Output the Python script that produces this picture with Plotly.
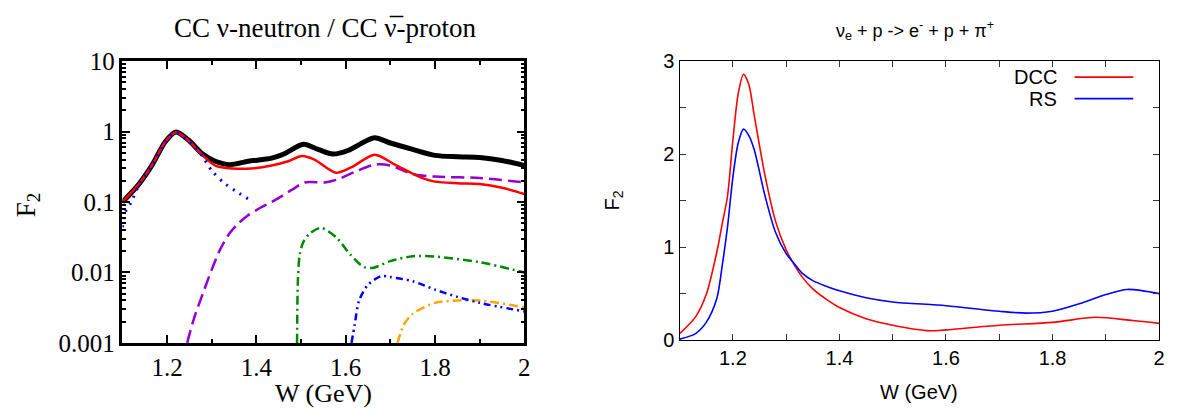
import plotly.graph_objects as go

# ---------------- Left panel data (log scale) ----------------
W_total = [1.10, 1.137, 1.167, 1.196, 1.22, 1.248, 1.278, 1.308, 1.341, 1.382, 1.434, 1.464,
           1.505, 1.538, 1.571, 1.605, 1.642, 1.665, 1.70, 1.75, 1.80, 1.85, 1.90, 1.95, 2.00]
F_total = [0.100, 0.18, 0.34, 0.72, 0.99, 0.76, 0.49, 0.38, 0.34, 0.38, 0.42, 0.49,
           0.66, 0.56, 0.48, 0.54, 0.72, 0.82, 0.69, 0.56, 0.46, 0.44, 0.43, 0.39, 0.33]

W_red = [1.10, 1.137, 1.167, 1.196, 1.22, 1.248, 1.278, 1.308, 1.345, 1.39, 1.434, 1.471,
         1.502, 1.53, 1.578, 1.612, 1.665, 1.71, 1.77, 1.80, 1.85, 1.90, 1.95, 2.00]
F_red = [0.100, 0.18, 0.34, 0.72, 0.98, 0.75, 0.47, 0.33, 0.30, 0.30, 0.33, 0.38,
         0.45, 0.40, 0.26, 0.31, 0.47, 0.34, 0.22, 0.195, 0.185, 0.18, 0.16, 0.13]

W_delta = [1.10, 1.107, 1.119, 1.14, 1.167, 1.196, 1.22, 1.248, 1.263, 1.278, 1.30, 1.326, 1.356, 1.393]
F_delta = [0.044, 0.073, 0.098, 0.19, 0.34, 0.72, 0.97, 0.74, 0.59, 0.46, 0.28, 0.19, 0.14, 0.10]

W_purple = [1.245, 1.26, 1.28, 1.30, 1.32, 1.34, 1.36, 1.38, 1.40, 1.44, 1.48, 1.508, 1.553, 1.582,
            1.627, 1.665, 1.70, 1.75, 1.80, 1.90, 2.00]
F_purple = [0.001, 0.0022, 0.005, 0.011, 0.022, 0.036, 0.050, 0.064, 0.077, 0.105, 0.15, 0.19, 0.19, 0.21,
            0.28, 0.34, 0.33, 0.25, 0.23, 0.22, 0.19]

W_green = [1.491, 1.493, 1.497, 1.505, 1.52, 1.545, 1.58, 1.61, 1.64, 1.66, 1.70, 1.75, 1.80, 1.90, 2.00]
F_green = [0.001, 0.008, 0.018, 0.027, 0.036, 0.043, 0.031, 0.018, 0.012, 0.0116, 0.0145, 0.017, 0.0168, 0.014, 0.010]

W_blue2 = [1.613, 1.62, 1.63, 1.65, 1.68, 1.70, 1.75, 1.80, 1.85, 1.90, 2.00]
F_blue2 = [0.001, 0.0018, 0.004, 0.0067, 0.0089, 0.0086, 0.0075, 0.0057, 0.0045, 0.0037, 0.0028]

W_orange = [1.716, 1.73, 1.75, 1.80, 1.85, 1.90, 2.00]
F_orange = [0.001, 0.0018, 0.0026, 0.0037, 0.0040, 0.0040, 0.0032]

# ---------------- Right panel data (linear) ----------------
W_dcc = [1.10, 1.13, 1.15, 1.17, 1.18, 1.19, 1.20, 1.21, 1.22, 1.23, 1.24, 1.26, 1.28, 1.30,
         1.31, 1.33, 1.35, 1.375, 1.40, 1.45, 1.50, 1.57, 1.60, 1.70, 1.80, 1.88, 1.95, 2.00]
F_dcc = [0.07, 0.25, 0.49, 0.95, 1.25, 1.55, 2.15, 2.65, 2.86, 2.75, 2.42, 1.78, 1.28, 0.97,
         0.86, 0.68, 0.55, 0.44, 0.35, 0.23, 0.16, 0.10, 0.11, 0.16, 0.19, 0.245, 0.21, 0.18]

W_rs = [1.10, 1.13, 1.15, 1.17, 1.18, 1.19, 1.20, 1.21, 1.22, 1.23, 1.24, 1.26, 1.28, 1.30,
        1.31, 1.33, 1.35, 1.375, 1.40, 1.45, 1.50, 1.60, 1.70, 1.75, 1.80, 1.85, 1.90, 1.94, 2.00]
F_rs = [0.01, 0.07, 0.19, 0.45, 0.80, 1.22, 1.75, 2.12, 2.27, 2.20, 2.05, 1.56, 1.16, 0.93,
        0.86, 0.72, 0.64, 0.58, 0.53, 0.455, 0.41, 0.37, 0.31, 0.29, 0.31, 0.39, 0.49, 0.545, 0.50]

left_xticks = [1.2, 1.4, 1.6, 1.8, 2.0]
left_xtext = ["1.2", "1.4", "1.6", "1.8", "2"]
left_yticks = [0.001, 0.01, 0.1, 1, 10]
left_ytext = ["0.001", "0.01", "0.1", "1", "10"]
right_xticks = [1.2, 1.4, 1.6, 1.8, 2.0]
right_xtext = ["1.2", "1.4", "1.6", "1.8", "2"]
right_yticks = [0, 1, 2, 3]

SERIF = "Liberation Serif"
SANS = "Liberation Sans"

FW, FH = 1184, 420
OFF = 8  # the page body has an 8px margin, so the figure is drawn 8px right and down


def px(x):
    return (x - OFF) / FW


def py(y):
    return 1 - (y - OFF) / FH


fig = go.Figure()


def add_left(x, y, color, width, dash):
    fig.add_trace(go.Scatter(x=x, y=y, mode="lines", xaxis="x", yaxis="y",
                             line=dict(color=color, width=width, dash=dash, shape="spline", smoothing=0.8),
                             showlegend=False, hoverinfo="skip"))


add_left(W_orange, F_orange, "#FFA500", 2.5, "9px,4px,2px,4px")
add_left(W_blue2, F_blue2, "#0000FF", 2.5, "7px,4px,2px,4px,2px,4px")
add_left(W_green, F_green, "#008800", 2.5, "9px,4px,2px,4px")
add_left(W_purple, F_purple, "#9400D3", 2.5, "13px,6px")
add_left(W_total, F_total, "#000000", 5, "solid")
add_left(W_red, F_red, "#FF0000", 2.5, "solid")
add_left(W_delta, F_delta, "#0000FF", 3, "2px,6px")

fig.add_trace(go.Scatter(x=W_dcc, y=F_dcc, mode="lines", xaxis="x2", yaxis="y2",
                         line=dict(color="#FF0000", width=1.6, shape="spline", smoothing=0.8),
                         showlegend=False, hoverinfo="skip"))
fig.add_trace(go.Scatter(x=W_rs, y=F_rs, mode="lines", xaxis="x2", yaxis="y2",
                         line=dict(color="#0000FF", width=1.6, shape="spline", smoothing=0.8),
                         showlegend=False, hoverinfo="skip"))

left_dom_x = [px(123), px(527)]
left_dom_y = [py(352), py(51)]
right_dom_x = [px(683), px(1165)]
right_dom_y = [py(349), py(51)]

fig.update_layout(
    width=FW, height=FH,
    margin=dict(l=0, r=0, t=0, b=0),
    paper_bgcolor="white", plot_bgcolor="white",
    xaxis=dict(domain=left_dom_x, range=[1.1, 2.0], tickvals=left_xticks, ticktext=left_xtext,
               ticks="inside", ticklen=8, tickwidth=2, tickcolor="black",
               showline=True, linewidth=2.5, linecolor="black", mirror="ticks",
               showgrid=False, zeroline=False,
               tickfont=dict(family=SERIF, size=25, color="black"),
               minor=dict(dtick=0.1, tick0=1.1, ticks="inside", ticklen=4, tickwidth=2, tickcolor="black")),
    yaxis=dict(domain=left_dom_y, type="log", range=[-3, 1], tickvals=left_yticks, ticktext=left_ytext,
               ticks="inside", ticklen=8, tickwidth=2, tickcolor="black",
               showline=True, linewidth=2.5, linecolor="black", mirror="ticks",
               showgrid=False, zeroline=False,
               tickfont=dict(family=SERIF, size=25, color="black"),
               minor=dict(dtick="D1", ticks="inside", ticklen=4, tickwidth=1.5, tickcolor="black")),
    xaxis2=dict(domain=right_dom_x, range=[1.1, 2.0], tickvals=right_xticks, ticktext=right_xtext,
                ticks="inside", ticklen=6, tickwidth=1, tickcolor="#333333",
                showline=True, linewidth=1.2, linecolor="black", mirror="ticks",
                showgrid=False, zeroline=False, anchor="y2",
                tickfont=dict(family=SANS, size=20, color="black"),
                minor=dict(dtick=0.1, tick0=1.1, ticks="inside", ticklen=6, tickwidth=1, tickcolor="#333333")),
    yaxis2=dict(domain=right_dom_y, range=[0, 3], tickvals=right_yticks,
                ticks="inside", ticklen=6, tickwidth=1, tickcolor="#333333",
                showline=True, linewidth=1.2, linecolor="black", mirror="ticks",
                showgrid=False, zeroline=False, anchor="x2",
                tickfont=dict(family=SANS, size=20, color="black"),
                minor=dict(dtick=0.5, ticks="inside", ticklen=6, tickwidth=1, tickcolor="#333333")),
)

ann = [
    dict(text="CC \u03bd-neutron / CC \u03bd\u0305-proton", x=px(327), y=py(16),
         font=dict(family=SERIF, size=27, color="black")),
    dict(text="W (GeV)", x=px(325), y=py(406), font=dict(family=SERIF, size=26, color="black")),
    dict(text="F<sub>2</sub>", x=px(28), y=py(205), textangle=-90,
         font=dict(family=SERIF, size=27, color="black")),
    dict(text="\u03bd<sub>e</sub> + p -> e<sup>-</sup> + p + \u03c0<sup>+</sup>", x=px(920), y=py(18),
         font=dict(family=SANS, size=18, color="black")),
    dict(text="W (GeV)", x=px(924), y=py(404), font=dict(family=SANS, size=20, color="black")),
    dict(text="F<sub>2</sub>", x=px(617), y=py(200), textangle=-90,
         font=dict(family=SANS, size=20, color="black")),
    dict(text="DCC", x=px(1064), y=py(68), xanchor="right",
         font=dict(family=SANS, size=20, color="black")),
    dict(text="RS", x=px(1064), y=py(91), xanchor="right",
         font=dict(family=SANS, size=20, color="black")),
]
for a in ann:
    a.setdefault("xanchor", "center")
    fig.add_annotation(xref="paper", yref="paper", showarrow=False, yanchor="middle", **a)

fig.add_shape(type="line", xref="paper", yref="paper", x0=px(1080), x1=px(1139),
              y0=py(68), y1=py(68), line=dict(color="#FF0000", width=1.6))
fig.add_shape(type="line", xref="paper", yref="paper", x0=px(1080), x1=px(1139),
              y0=py(91), y1=py(91), line=dict(color="#0000FF", width=1.6))

fig.write_html("out.html")
